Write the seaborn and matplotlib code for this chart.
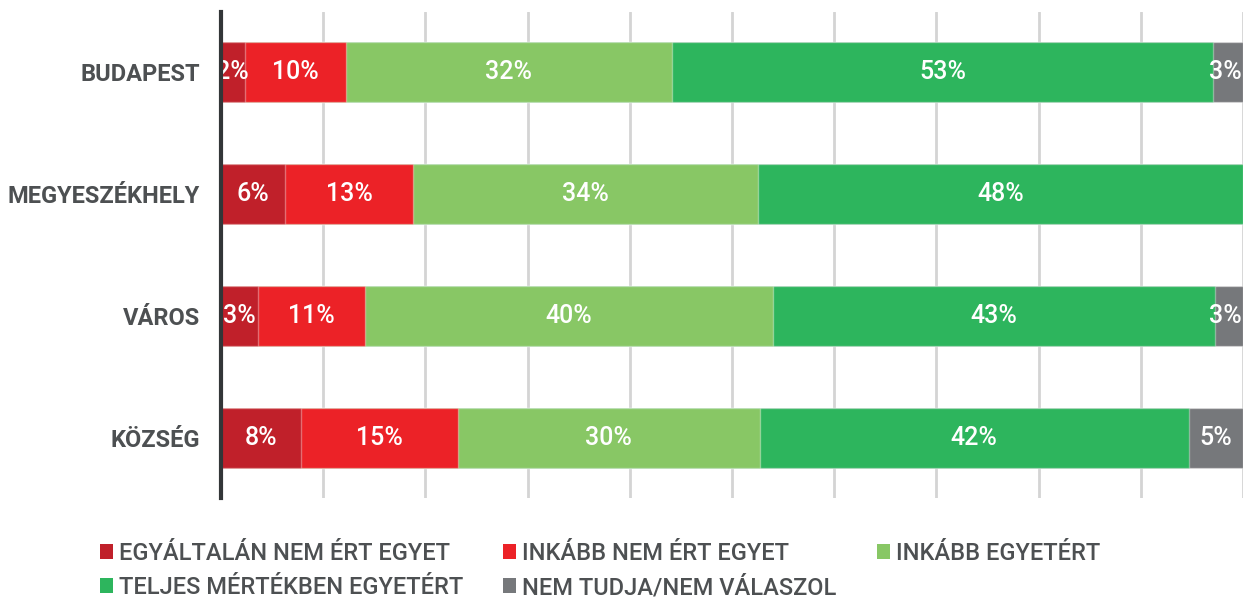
import matplotlib
matplotlib.use("Agg")
import matplotlib.pyplot as plt
import seaborn as sns
import numpy as np
import pandas as pd
from matplotlib.patches import Patch

# data
categories = ["BUDAPEST", "MEGYESZÉKHELY", "VÁROS", "KÖZSÉG"]
series = ["EGYÁLTALÁN NEM ÉRT EGYET", "INKÁBB NEM ÉRT EGYET", "INKÁBB EGYETÉRT",
          "TELJES MÉRTÉKBEN EGYETÉRT", "NEM TUDJA/NEM VÁLASZOL"]
egyaltalan_nem = [2.3, 6.3, 3.6, 7.8]
inkabb_nem = [9.9, 12.5, 10.5, 15.4]
inkabb_igen = [31.9, 33.7, 39.9, 29.5]
teljesen = [53.0, 47.5, 43.3, 42.0]
nem_tudja = [2.9, 0.0, 2.7, 5.3]
# percentages as printed on the bars
shown = [[2, 10, 32, 53, 3],
         [6, 13, 34, 48, 0],
         [3, 11, 40, 43, 3],
         [8, 15, 30, 42, 5]]

colors = ["#c0202a", "#ec2227", "#88c765", "#2db55d", "#76787b"]
text_grey = "#4d5052"

sns.set_theme(style="white")
plt.rcParams["font.family"] = ["Roboto", "DejaVu Sans"]

df = pd.DataFrame({"cat": categories, series[0]: egyaltalan_nem, series[1]: inkabb_nem,
                   series[2]: inkabb_igen, series[3]: teljesen, series[4]: nem_tudja})
cum = df[series].cumsum(axis=1)

fig = plt.figure(figsize=(12.43, 6.02), dpi=100)
ax = fig.add_axes([221 / 1243, 1 - 498 / 602, 1 - 221 / 1243, (498 - 12) / 602])

# stacked bars: draw cumulative totals from the outermost segment inwards
for i in range(len(series) - 1, -1, -1):
    sns.barplot(data=df, x=cum[series[i]], y="cat", color=colors[i], orient="h",
                width=0.49, ax=ax, saturation=1, edgecolor=(1, 1, 1, 0.35), linewidth=1,
                zorder=2)

# value labels centred in each segment (narrow last segment: keep text inside the plot)
for r in range(len(categories)):
    start = 0
    for i, s in enumerate(series):
        w = df.loc[r, s]
        if shown[r][i] > 0:
            if i == len(series) - 1 and w < 4:
                xpos, ha = start + w - 0.1, "right"
            else:
                xpos, ha = start + w / 2, "center"
            ax.text(xpos, r, f"{shown[r][i]}%", ha=ha, va="center",
                    color="white", fontsize=18, fontweight="medium", zorder=5)
        start += w

ax.set_xlim(0, 100)
ax.set_ylim(3.49, -0.49)
ax.set_xticks(np.arange(0, 101, 10))
ax.set_xticklabels([])
ax.xaxis.grid(True, color="#d4d4d4", linewidth=2, zorder=0)
ax.set_axisbelow(True)
ax.set_xlabel("")
ax.set_ylabel("")
ax.tick_params(axis="y", length=0, pad=15)
ax.tick_params(axis="x", length=0)
for lbl in ax.get_yticklabels():
    lbl.set_fontsize(17)
    lbl.set_fontweight("bold")
    lbl.set_color(text_grey)
for side in ["top", "right", "bottom"]:
    ax.spines[side].set_visible(False)
ax.spines["left"].set_color("#333638")
ax.spines["left"].set_linewidth(3)
ax.spines["left"].set_zorder(6)

# legend, laid out row by row
handles = [Patch(facecolor=c, edgecolor="none") for c in colors]
order = [0, 3, 1, 4, 2]
leg = fig.legend([handles[k] for k in order], [series[k] for k in order], ncol=3,
                 loc="lower left", bbox_to_anchor=(100 / 1243, 3 / 602), frameon=False,
                 borderpad=0, borderaxespad=0,
                 handlelength=0.55, handleheight=0.6, handletextpad=0.25,
                 columnspacing=1.7, labelspacing=0.45, fontsize=17)
for t in leg.get_texts():
    t.set_color(text_grey)
    t.set_fontweight("medium")

fig.savefig("out.png", dpi=100)
